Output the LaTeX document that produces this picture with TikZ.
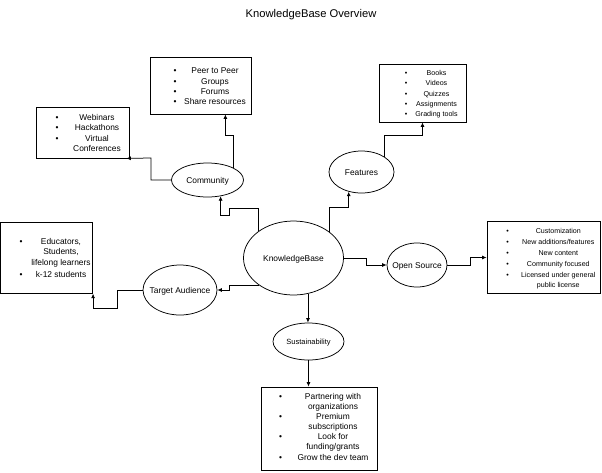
\documentclass[tikz,border=0pt]{standalone}
\usepackage{fontspec}
\setmainfont{Liberation Sans}
\usetikzlibrary{shapes.geometric,arrows.meta}
\newcommand\fsz[1]{\fontsize{#1}{#1}\selectfont}
\begin{document}
\begin{tikzpicture}[x=1pt,y=-1pt,
  ell/.style={draw=black, ellipse, inner sep=0pt, line width=0.75pt},
  ellt/.style={inner sep=0pt, font=\fsz{8.4}, text height=6pt, text depth=0pt},
  box/.style={draw=black, rectangle, inner sep=0pt, line width=0.75pt},
  lbl/.style={anchor=base, inner sep=0pt, font=\fsz{8.4}},
  slbl/.style={anchor=base, inner sep=0pt, font=\fsz{7.1}},
  arr/.style={draw=black, line width=0.75pt, -{Latex[length=4.5pt,width=4pt]}},
]
\useasboundingbox (0,0) rectangle (602,472);

% title
\node[anchor=base, inner sep=0pt, font=\fsz{11.2}] (title) at (311,17.3) {KnowledgeBase Overview};

% ellipses
\node[ell, minimum width=100, minimum height=74, label={[ellt]center:KnowledgeBase}] (kb) at (293.5,258) {};
\node[ell, minimum width=72, minimum height=34, label={[ellt]center:Community}] (com) at (207.5,180) {};
\node[ell, minimum width=65, minimum height=42, label={[ellt]center:Features}] (ft) at (361.5,172) {};
\node[ell, minimum width=74, minimum height=50, label={[ellt]center:Target Audience}] (ta) at (180,290) {};
\node[ell, minimum width=60, minimum height=44, label={[ellt]center:Open Source}] (os) at (417,265) {};
\node[ell, minimum width=71, minimum height=37, label={[ellt, font=\fsz{7.5}, text height=5.4pt]center:Sustainability}] (su) at (308.5,341.5) {};

% boxes
\node[box, minimum width=101, minimum height=57] (pb) at (200.5,85.5) {};
\node[box, minimum width=93, minimum height=51] (wb) at (82.5,132.5) {};
\node[box, minimum width=87, minimum height=58] (fb) at (422.5,93) {};
\node[box, minimum width=92, minimum height=71] (tb) at (46.7,257.8) {};
\node[box, minimum width=113.5, minimum height=71.5] (ob) at (543.7,257.5) {};
\node[box, minimum width=116, minimum height=83] (sb) at (319,428.5) {};

% Peer box
\foreach \t/\y [count=\i] in {Peer to Peer/73.7, Groups/84, Forums/94.7, Share resources/104.7}{
  \node[lbl] (pbt\i) at (215,\y) {\t};
  \node[lbl] (pbb\i) at (175,\y) {\textbullet};
}
% Webinars box
\foreach \t/\y [count=\i] in {Webinars/120.3, Hackathons/130.3, Virtual/141, Conferences/151}
  \node[lbl] (wbt\i) at (97,\y) {\t};
\foreach \y [count=\i] in {120.3,130.3,141}
  \node[lbl] (wbb\i) at (57,\y) {\textbullet};
% Features box
\foreach \t/\y [count=\i] in {Books/75.9, Videos/85.9, Quizzes/96.3, Assignments/106.9, Grading tools/116.9}{
  \node[slbl] (fbt\i) at (436.5,\y) {\t};
  \node[slbl] (fbb\i) at (406,\y) {\textbullet};
}
% Target box
\foreach \t/\y [count=\i] in {{Educators,}/244, {Students,}/254, lifelong learners/265.7, k-12 students/277.3}
  \node[lbl] (tbt\i) at (61,\y) {\t};
\node[lbl] (tbb1) at (21,244) {\textbullet};
\node[lbl] (tbb2) at (21,277.3) {\textbullet};
% Open source box
\foreach \t/\y [count=\i] in {Customization/233.6, {New additions/features}/244.3, New content/255.3, Community focused/266.3, Licensed under general/277.6, public license/287.9}
  \node[slbl] (obt\i) at (558.3,\y) {\t};
\foreach \y [count=\i] in {233.6,244.3,255.3,266.3,277.6}
  \node[slbl] (obb\i) at (507.7,\y) {\textbullet};
% Sustainability box
\foreach \t/\y [count=\i] in {Partnering with/399.3, organizations/409.3, Premium/419.3, subscriptions/429.3, Look for/439.3, {funding/grants}/449.3, Grow the dev team/460}
  \node[lbl] (sbt\i) at (333,\y) {\t};
\foreach \y [count=\i] in {399.3,419.3,439.3,460}
  \node[lbl] (sbb\i) at (280.7,\y) {\textbullet};

% connectors
\draw[arr] (kb.142) -- ++(0,-23) -| (229,215) -| (com.-51);
\draw[arr] (com.25) -- ++(0,-32) -| ([xshift=-26pt]pb.south east);
\draw[arr] (com.west) -| (151,158) -- ([xshift=-3pt]wb.south east);
\draw[arr] (kb.36) -- ++(0,-24) -| (ft.-123);
\draw[arr] (ft.34) -- ++(0,-20.8) -| (fb.south);
\draw[arr] (kb.east) -- ++(22,0) |- (os.west);
\draw[arr] (os.east) -- ++(23,0) |- (ob.west);
\draw[arr] (kb.218) -- ++(-29,0) |- (ta.east);
\draw[arr] (ta.west) -- ++(-25,0) -- ++(0,18) -| (tb.south east);
\draw[arr] (kb.-68) -- (kb.-68 |- su.north);
\draw[arr] (su.south) -- (su.south |- sb.north);
\end{tikzpicture}
\end{document}
